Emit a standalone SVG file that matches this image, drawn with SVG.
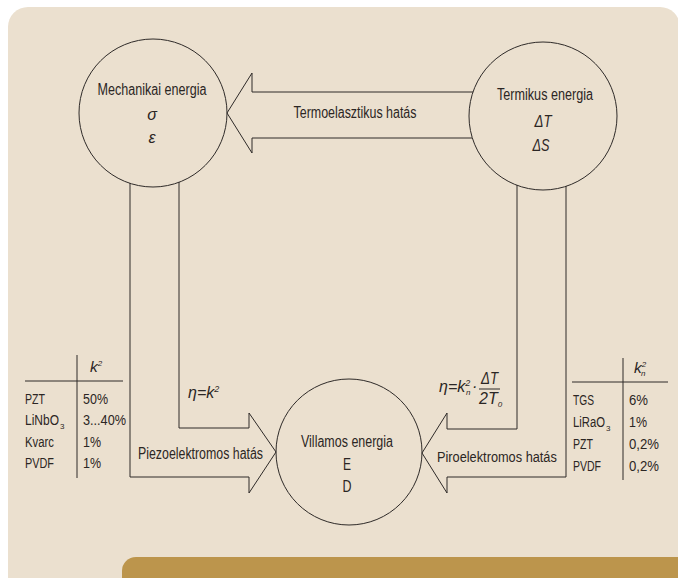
<svg xmlns="http://www.w3.org/2000/svg" width="678" height="578" viewBox="0 0 678 578">
  <style>
    .t { font-family: "Liberation Sans", Arial, sans-serif; font-size: 16px; fill: #2b2624; }
    .s { font-size: 15.5px; }
    .sub { font-size: 8px; }
    .i { font-style: italic; }
    .m { text-anchor: middle; }
    .ln { fill: none; stroke: #2e2a28; stroke-width: 1; }
  </style>
  <!-- panel background -->
  <rect x="8" y="7" width="672" height="600" rx="20" fill="#ebe0cf"/>
  <rect x="122" y="557" width="580" height="40" rx="14" fill="#bc954c"/>

  <!-- connectors: wide block arrows between the energy forms -->
  <g id="connectors" class="ln">
    <path d="M473,92 H252 V73 L227,113 L252,153 V138 H472"/>
    <path d="M130,183 V477 H249 V493 L276,452 L249,413 V428 H179 V182"/>
    <path d="M566,186 V477 H447 V493 L422,453 L447,413 V429 H517 V185"/>
  </g>

  <g id="mechanikai">
    <circle class="ln" cx="153" cy="113" r="74"/>
    <text class="t m" x="152" y="95" textLength="109" lengthAdjust="spacingAndGlyphs">Mechanikai energia</text>
    <text class="t m i" x="152" y="120">σ</text>
    <text class="t m i" x="152" y="143">ε</text>
  </g>

  <g id="termikus">
    <circle class="ln" cx="543" cy="116" r="74"/>
    <text class="t m" x="545" y="100" textLength="96" lengthAdjust="spacingAndGlyphs">Termikus energia</text>
    <text class="t m i" x="543" y="127" textLength="17" lengthAdjust="spacingAndGlyphs">ΔT</text>
    <text class="t m i" x="541" y="151" textLength="17" lengthAdjust="spacingAndGlyphs">ΔS</text>
  </g>

  <g id="villamos">
    <circle class="ln" cx="349" cy="452" r="73"/>
    <text class="t m" x="347" y="447" textLength="92" lengthAdjust="spacingAndGlyphs">Villamos energia</text>
    <text class="t m" x="347" y="470" textLength="8" lengthAdjust="spacingAndGlyphs">E</text>
    <text class="t m" x="347" y="492" textLength="9" lengthAdjust="spacingAndGlyphs">D</text>
  </g>

  <!-- arrow labels -->
  <g id="termoelasztikus">
    <text class="t m" x="355" y="118" textLength="123" lengthAdjust="spacingAndGlyphs">Termoelasztikus hatás</text>
  </g>
  <g id="piezo">
    <text class="t" x="138" y="459" textLength="125" lengthAdjust="spacingAndGlyphs">Piezoelektromos hatás</text>
    <text class="t i" x="188" y="398">η=k<tspan font-size="9" dy="-6">2</tspan></text>
  </g>
  <g id="piro">
    <!-- condensed by a horizontal scale so the label ends left of the table -->
    <text class="t s" transform="translate(437,462) scale(0.824,1)">Piroelektromos hatás</text>
    <text class="t i" x="439" y="392">η=k<tspan font-size="9" dy="-6">2</tspan><tspan font-size="8" x="466" dy="9">n</tspan><tspan x="472" dy="-3">·</tspan></text>
    <text class="t i" x="481" y="384" textLength="17" lengthAdjust="spacingAndGlyphs">ΔT</text>
    <line class="ln" x1="479" y1="389" x2="500" y2="389"/>
    <text class="t i" x="479" y="404">2T<tspan font-size="8" dy="3">0</tspan></text>
  </g>

  <!-- coupling factors, piezoelectric materials -->
  <g id="tabla-piezo">
    <line class="ln" x1="77" y1="355" x2="77" y2="478"/>
    <line class="ln" x1="25" y1="381" x2="123" y2="381"/>
    <text class="t s i" x="90" y="372">k<tspan font-size="8" dy="-6">2</tspan></text>
    <text class="t s" x="25" y="404" textLength="20" lengthAdjust="spacingAndGlyphs">PZT</text>
    <text class="t s" transform="translate(25,425) scale(0.774,1)">LiNbO</text>
    <text class="t sub" x="60" y="429">3</text>
    <text class="t s" x="25" y="447" textLength="29" lengthAdjust="spacingAndGlyphs">Kvarc</text>
    <text class="t s" x="25" y="468" textLength="29" lengthAdjust="spacingAndGlyphs">PVDF</text>
    <text class="t s" x="83" y="404" textLength="25" lengthAdjust="spacingAndGlyphs">50%</text>
    <text class="t s" x="83" y="425" textLength="43" lengthAdjust="spacingAndGlyphs">3...40%</text>
    <text class="t s" x="83" y="447" textLength="18" lengthAdjust="spacingAndGlyphs">1%</text>
    <text class="t s" x="83" y="468" textLength="18" lengthAdjust="spacingAndGlyphs">1%</text>
  </g>

  <!-- coupling factors, pyroelectric materials -->
  <g id="tabla-piro">
    <line class="ln" x1="623" y1="358" x2="623" y2="480"/>
    <line class="ln" x1="572" y1="382" x2="668" y2="382"/>
    <text class="t s i" x="634" y="373">k<tspan font-size="8" dy="-6">2</tspan><tspan font-size="8" x="641" dy="9">n</tspan></text>
    <text class="t s" x="573" y="405" textLength="21" lengthAdjust="spacingAndGlyphs">TGS</text>
    <text class="t s" transform="translate(573,427) scale(0.729,1)">LiRaO</text>
    <text class="t sub" x="606" y="431">3</text>
    <text class="t s" x="573" y="449" textLength="20" lengthAdjust="spacingAndGlyphs">PZT</text>
    <text class="t s" x="573" y="471" textLength="28" lengthAdjust="spacingAndGlyphs">PVDF</text>
    <text class="t s" x="629" y="405" textLength="19" lengthAdjust="spacingAndGlyphs">6%</text>
    <text class="t s" x="629" y="427" textLength="18" lengthAdjust="spacingAndGlyphs">1%</text>
    <text class="t s" x="629" y="449" textLength="30" lengthAdjust="spacingAndGlyphs">0,2%</text>
    <text class="t s" x="629" y="471" textLength="30" lengthAdjust="spacingAndGlyphs">0,2%</text>
  </g>
</svg>
